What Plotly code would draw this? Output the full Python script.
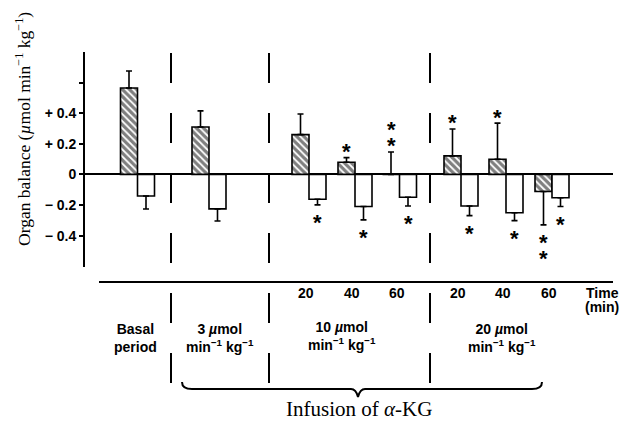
import plotly.graph_objects as go

# ---------------- data ----------------
groups = ["Basal", "3", "10-20", "10-40", "10-60", "20-20", "20-40", "20-60"]
time_labels = ["", "", "20", "40", "60", "20", "40", "60"]
hatched_vals = [0.565, 0.31, 0.26, 0.08, 0.0, 0.121, 0.099, -0.112]
hatched_err = [0.111, 0.105, 0.135, 0.03, 0.147, 0.176, 0.236, 0.218]
white_vals = [-0.141, -0.225, -0.162, -0.21, -0.149, -0.206, -0.25, -0.152]
white_err = [0.085, 0.079, 0.037, 0.087, 0.057, 0.063, 0.052, 0.058]
hatched_stars = [0, 0, 0, 1, 2, 1, 1, 2]
white_stars = [0, 0, 1, 1, 1, 1, 1, 1]
ytick_vals = [0.6, 0.4, 0.2, 0, -0.2, -0.4]
ytick_text = ["", "+ 0.4", "+ 0.2", "0", "\u2212 0.2", "\u2212 0.4"]
dose_labels = ["Basal<br>period",
               "3 <i>\u00b5</i>mol<br>min<sup>\u22121</sup> kg<sup>\u22121</sup>",
               "10 <i>\u00b5</i>mol<br>min<sup>\u22121</sup> kg<sup>\u22121</sup>",
               "20 <i>\u00b5</i>mol<br>min<sup>\u22121</sup> kg<sup>\u22121</sup>"]
time_unit_lines = ["Time", "(min)"]

# ---------------- layout (positions) ----------------
W, H = 622, 421
L, R, T, B = 85, 9, 52, 154
PLOT_TOP, PLOT_BOT = T, H - B
pair_pos = [137.5, 209, 309, 355, 399.5, 461, 506, 552]   # junction of each bar pair
bar_w = 17
divider_x = [171, 269, 430]
dose_x = [135, 220, 342, 502]
dose_y = [338, 338, 336, 338]
time_unit_y = [293, 307]


def py2paper(py):
    return (PLOT_BOT - py) / (PLOT_BOT - PLOT_TOP)


def px2paper(px):
    return (px - L) / (W - L - R)


hx = [p - bar_w / 2 for p in pair_pos]
wx = [p + bar_w / 2 for p in pair_pos]

fig = go.Figure()

fig.add_trace(go.Bar(
    x=hx, y=hatched_vals, width=bar_w,
    marker=dict(color="white", line=dict(color="black", width=1.6),
                pattern=dict(shape="\\", fgcolor="black", bgcolor="white",
                             size=5, solidity=0.65)),
    error_y=dict(type="data", symmetric=False,
                 array=[e if v >= 0 else 0 for v, e in zip(hatched_vals, hatched_err)],
                 arrayminus=[e if v < 0 else 0 for v, e in zip(hatched_vals, hatched_err)],
                 color="black", thickness=1.6, width=3),
    showlegend=False, hoverinfo="skip"))

fig.add_trace(go.Bar(
    x=wx, y=white_vals, width=bar_w,
    marker=dict(color="white", line=dict(color="black", width=1.6)),
    error_y=dict(type="data", symmetric=False,
                 array=[e if v >= 0 else 0 for v, e in zip(white_vals, white_err)],
                 arrayminus=[e if v < 0 else 0 for v, e in zip(white_vals, white_err)],
                 color="black", thickness=1.6, width=3),
    showlegend=False, hoverinfo="skip"))

annotations = []
sans = "Liberation Sans, Arial, sans-serif"
serif = "Liberation Serif, Times New Roman, serif"


def ann(**kw):
    kw.setdefault("showarrow", False)
    kw.setdefault("xanchor", "center")
    kw.setdefault("yanchor", "middle")
    annotations.append(kw)


# significance stars
def add_stars(xs, vals, errs, counts):
    for x, v, e, n in zip(xs, vals, errs, counts):
        end = v + e if v >= 0 else v - e
        sign = 1 if v >= 0 else -1
        for k in range(n):
            d = 12 + 16 * k
            ann(x=x, y=end, xref="x", yref="y", text="<b>*</b>",
                yshift=sign * d - 6,
                font=dict(family=sans, size=22, color="black"))


add_stars(hx, hatched_vals, hatched_err, hatched_stars)
add_stars(wx, white_vals, white_err, white_stars)

# time labels
for p, t in zip(pair_pos, time_labels):
    if t:
        ann(x=p - 3, y=py2paper(293), xref="x", yref="paper",
            text="<b>%s</b>" % t,
            font=dict(family=sans, size=14, color="black"))
for t, y in zip(time_unit_lines, time_unit_y):
    ann(x=px2paper(621), y=py2paper(y), xref="paper", yref="paper",
        text="<b>%s</b>" % t, xanchor="right",
        font=dict(family=sans, size=14, color="black"))

# dose labels
for x, y, t in zip(dose_x, dose_y, dose_labels):
    ann(x=x, y=py2paper(y), xref="x", yref="paper", text="<b>%s</b>" % t,
        align="center", font=dict(family=sans, size=14, color="black"))

# infusion label
ann(x=359, y=py2paper(409), xref="x", yref="paper",
    text="Infusion of <i>\u03b1</i>-KG",
    font=dict(family=serif, size=21, color="black"))

# y-axis title
ann(x=px2paper(23), y=py2paper(129), xref="paper", yref="paper",
    text="Organ balance (<i>\u00b5</i>mol min<sup>\u22121</sup> kg<sup>\u22121</sup>)",
    textangle=-90,
    font=dict(family=serif, size=17.5, color="black"))

shapes = []
# dashed dividers
for dx in divider_x:
    shapes.append(dict(type="line", xref="x", yref="paper", x0=dx, x1=dx,
                       y0=py2paper(53), y1=py2paper(383),
                       line=dict(color="black", width=2, dash="30px,30px")))
# lower horizontal rule
shapes.append(dict(type="line", xref="x", yref="paper", x0=99, x1=613,
                   y0=py2paper(282), y1=py2paper(282),
                   line=dict(color="black", width=2)))
# brace
bx0, bx1, bmid = 182, 542, 358
ytop, yline, ytip = py2paper(382), py2paper(389), py2paper(397)
path = (f"M {bx0},{ytop} Q {bx0},{yline} {bx0+10},{yline} L {bmid-7},{yline} "
        f"Q {bmid-2},{yline} {bmid},{ytip} Q {bmid+2},{yline} {bmid+7},{yline} "
        f"L {bx1-10},{yline} Q {bx1},{yline} {bx1},{ytop}")
shapes.append(dict(type="path", xref="x", yref="paper", path=path,
                   line=dict(color="black", width=2)))

fig.update_layout(
    width=W, height=H,
    margin=dict(l=L, r=R, t=T, b=B, pad=0),
    paper_bgcolor="white", plot_bgcolor="white",
    barmode="overlay",
    xaxis=dict(range=[L, W - R], visible=False, fixedrange=True),
    yaxis=dict(range=[-0.605, 0.8], showgrid=False,
               zeroline=True, zerolinecolor="black", zerolinewidth=2,
               showline=True, linecolor="black", linewidth=2,
               ticks="outside", ticklen=4, tickwidth=1.5, tickcolor="black",
               tickvals=ytick_vals, ticktext=ytick_text,
               tickfont=dict(family=sans, size=14, color="black", weight="bold"),
               fixedrange=True),
    annotations=annotations,
    shapes=shapes,
    showlegend=False,
)

fig.write_html("out.html")
